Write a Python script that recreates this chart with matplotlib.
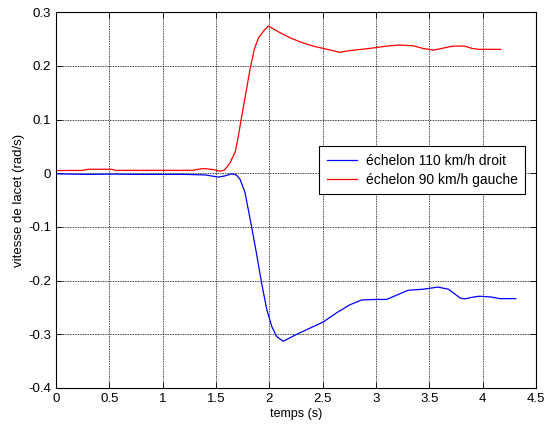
import matplotlib
matplotlib.use("Agg")
import matplotlib.pyplot as plt

plt.rcParams["font.family"] = ["Liberation Sans", "DejaVu Sans"]

# step to the right, 110 km/h
t_droit = [0.0, 0.3, 0.55, 0.75, 1.2, 1.4, 1.52, 1.58, 1.646, 1.69, 1.725,
           1.772, 1.8, 1.834, 1.88, 1.928, 1.975, 2.022, 2.068, 2.13, 2.256,
           2.505, 2.63, 2.755, 2.865, 3.0, 3.1, 3.3, 3.44, 3.58, 3.68, 3.79,
           3.83, 3.9, 3.97, 4.08, 4.16, 4.31]
v_droit = [-0.001, -0.002, -0.0015, -0.002, -0.002, -0.003, -0.007, -0.005,
           -0.001, -0.003, -0.011, -0.036, -0.065, -0.1, -0.15, -0.205,
           -0.253, -0.285, -0.304, -0.313, -0.30, -0.277, -0.26, -0.245,
           -0.236, -0.235, -0.235, -0.218, -0.216, -0.212, -0.216, -0.2325,
           -0.234, -0.231, -0.229, -0.2305, -0.2335, -0.2335]

# step to the left, 90 km/h
t_gauche = [0.0, 0.25, 0.3, 0.52, 0.56, 1.28, 1.38, 1.47, 1.54, 1.58, 1.63,
            1.68, 1.71, 1.74, 1.78, 1.82, 1.86, 1.9, 1.95, 1.99, 2.1, 2.2,
            2.3, 2.41, 2.5, 2.66, 2.75, 2.94, 3.1, 3.22, 3.35, 3.44, 3.54,
            3.72, 3.83, 3.9, 3.96, 4.17]
v_gauche = [0.005, 0.0055, 0.0075, 0.0075, 0.0055, 0.0056, 0.009, 0.007,
            0.004, 0.006, 0.019, 0.04, 0.07, 0.105, 0.15, 0.195, 0.232,
            0.253, 0.266, 0.2745, 0.262, 0.252, 0.244, 0.237, 0.233, 0.2255,
            0.2285, 0.2327, 0.237, 0.239, 0.2376, 0.2327, 0.2295, 0.237,
            0.237, 0.2327, 0.231, 0.231]

labels = ["échelon 110 km/h droit", "échelon 90 km/h gauche"]

fig = plt.figure(figsize=(5.46, 4.3), dpi=100)
ax = fig.add_axes([0.1026, 0.0977, 0.8791, 0.8737])

ax.plot(t_droit, v_droit, color="blue", linewidth=0.9, label=labels[0])
ax.plot(t_gauche, v_gauche, color="red", linewidth=0.9, label=labels[1])

ax.set_xlim(0, 4.5)
ax.set_ylim(-0.4, 0.3)
ax.set_xticks([0, 0.5, 1, 1.5, 2, 2.5, 3, 3.5, 4, 4.5])
ax.set_xticklabels(["0", "0.5", "1", "1.5", "2", "2.5", "3", "3.5", "4", "4.5"])
ax.set_yticks([-0.4, -0.3, -0.2, -0.1, 0, 0.1, 0.2, 0.3])
ax.set_yticklabels(["-0.4", "-0.3", "-0.2", "-0.1", "0", "0.1", "0.2", "0.3"])
ax.tick_params(direction="in", top=True, right=True, labelsize=9.5,
               length=4, width=0.6)
ax.grid(True, color="k", linestyle=(0, (1, 1)), linewidth=0.6)
for s in ax.spines.values():
    s.set_linewidth(0.8)

ax.set_xlabel("temps (s)", fontsize=9, labelpad=2)
ax.set_ylabel("vitesse de lacet (rad/s)", fontsize=9.5, labelpad=2)

leg = ax.legend(loc="upper left", bbox_to_anchor=(0.548, 0.644),
                borderaxespad=0, fancybox=False, framealpha=1,
                edgecolor="k", fontsize=10, handlelength=2.2,
                handletextpad=0.6, borderpad=0.55, labelspacing=0.35)
leg.get_frame().set_linewidth(0.8)

fig.savefig("out.png", dpi=100)
